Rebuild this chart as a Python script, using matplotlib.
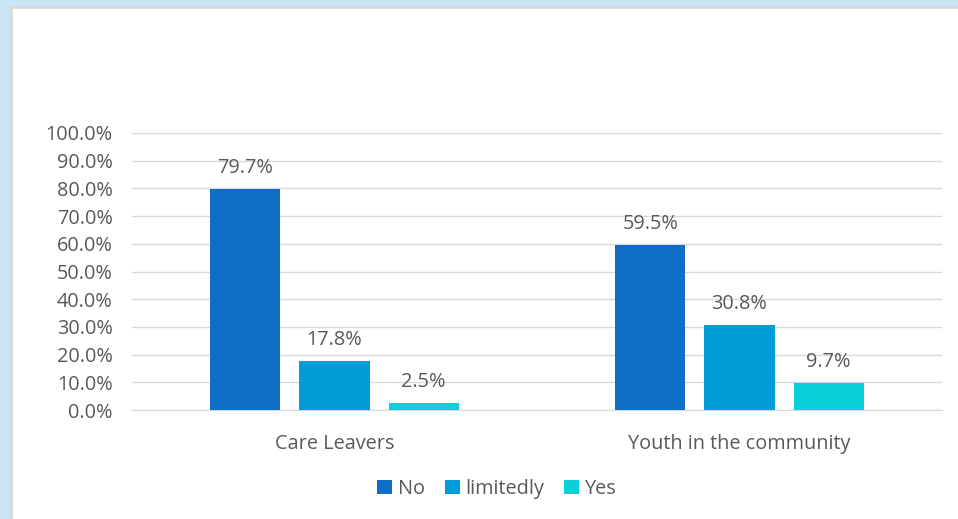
import matplotlib.pyplot as plt
import numpy as np
from matplotlib.patches import Rectangle

categories = ['Care Leavers', 'Youth in the community']
series = ['No', 'limitedly', 'Yes']
values_no = [79.7, 59.5]
values_limitedly = [17.8, 30.8]
values_yes = [2.5, 9.7]
colors = ['#0F6FC6', '#009DD9', '#0BD0D9']

plt.rcParams['font.family'] = ['Open Sans', 'DejaVu Sans']
text_color = '#595959'
fs = 14.3

fig = plt.figure(figsize=(9.58, 5.19), dpi=100, facecolor='#C9E6F7')
# white chart area with thin grey frame
fig.patches.append(Rectangle((10.5 / 958, -0.05), 1.0, 1 - 6.5 / 519 + 0.05,
                             transform=fig.transFigure, facecolor='white',
                             edgecolor='#D9D9D9', linewidth=2, zorder=-10))

ax = fig.add_axes([132 / 958, 1 - 410 / 519, 810 / 958, 277 / 519])
ax.set_facecolor('none')

x = np.arange(len(categories))
width = 0.173
offset = 0.22
for i, (name, vals) in enumerate(zip(series, [values_no, values_limitedly, values_yes])):
    bars = ax.bar(x + (i - 1) * offset, vals, width, color=colors[i], label=name, zorder=3)
    for b, v in zip(bars, vals):
        ax.text(b.get_x() + b.get_width() / 2, v + 4, f'{v:.1f}%', ha='center', va='bottom',
                fontsize=fs, color=text_color)

ax.set_xlim(-0.5, 1.5)
ax.set_ylim(0, 100)
ax.set_yticks(np.arange(0, 101, 10))
ax.set_yticklabels([f'{t:.1f}%' for t in np.arange(0, 101, 10)])
ax.set_xticks(x)
ax.set_xticklabels(categories)
ax.tick_params(axis='both', length=0, labelsize=fs, labelcolor=text_color)
ax.tick_params(axis='y', pad=14)
ax.tick_params(axis='x', pad=17)
ax.grid(axis='y', color='#D9D9D9', linewidth=1, zorder=0)
for s in ['top', 'right', 'left']:
    ax.spines[s].set_visible(False)
ax.spines['bottom'].set_color('#D9D9D9')

fig.legend(loc='center', bbox_to_anchor=(497 / 958, 1 - 489 / 519), ncol=3, frameon=False,
           fontsize=fs, labelcolor=text_color, handlelength=0.75, handleheight=0.75,
           handletextpad=0.3, columnspacing=1.0)

fig.savefig('out.png', dpi=100, facecolor=fig.get_facecolor())
